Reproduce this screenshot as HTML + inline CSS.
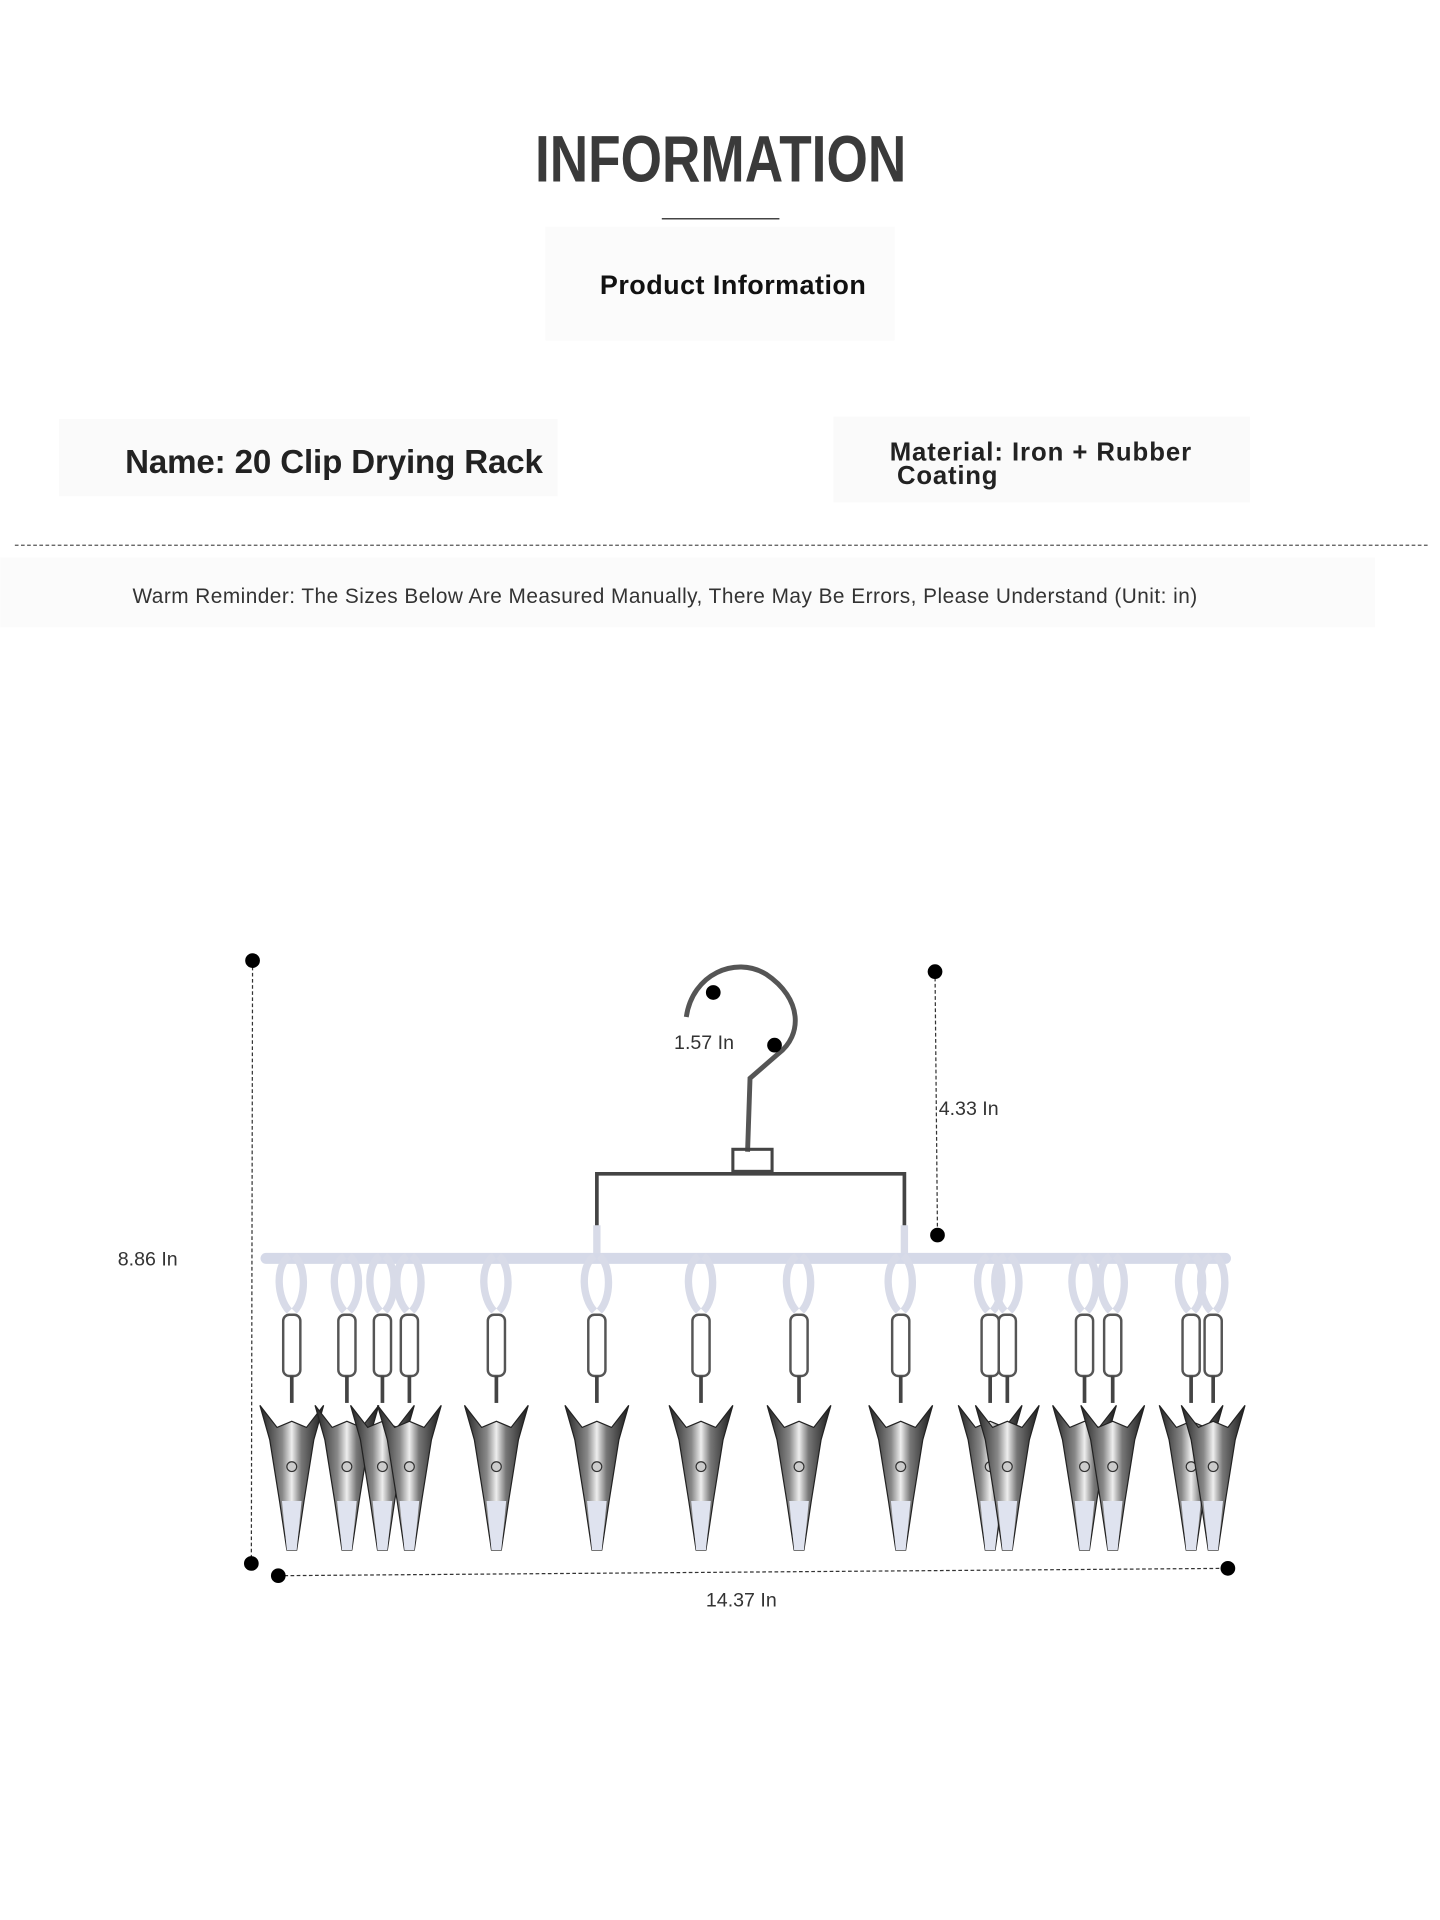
<!DOCTYPE html>
<html><head><meta charset="utf-8"><style>
html,body{margin:0;padding:0;background:#fff;}
svg{display:block;}
</style></head><body>
<svg width="1440" height="1920" viewBox="0 0 1175 1567" xmlns="http://www.w3.org/2000/svg">
<defs>
<linearGradient id="met" x1="0" x2="1" y1="0" y2="0">
<stop offset="0" stop-color="#222"/><stop offset="0.35" stop-color="#888"/><stop offset="0.5" stop-color="#eee"/><stop offset="0.65" stop-color="#777"/><stop offset="1" stop-color="#1a1a1a"/>
</linearGradient>
<g id="clip">
<path d="M-2,0 C-14,8 -12,35 -2,45 M2,0 C12,8 12,35 2,45" fill="none" stroke="#d8dbe8" stroke-width="6"/>
<rect x="-7" y="48" width="14" height="50" rx="5" fill="none" stroke="#555" stroke-width="2"/>
<line x1="0" y1="98" x2="0" y2="120" stroke="#444" stroke-width="3"/>
<path d="M-26,122 L-18,150 L-10,200 L-4,240 L4,240 L10,200 L18,150 L26,122 L12,140 L0,135 L-12,140 Z" fill="url(#met)" stroke="#222" stroke-width="1"/>
<circle cx="0" cy="172" r="4" fill="#ccc" stroke="#333"/>
<path d="M-8,200 L-4,240 L4,240 L8,200 Z" fill="#dfe3ef"/>
</g>
</defs>
<rect width="1175" height="1567" fill="#fff"/>
<text x="588" y="148" text-anchor="middle" font-family="Liberation Sans Narrow, Liberation Sans, sans-serif" font-weight="bold" font-size="54" fill="#3a3a3a" textLength="303" lengthAdjust="spacingAndGlyphs">INFORMATION</text>
<line x1="540" y1="178.5" x2="636" y2="178.5" stroke="#444" stroke-width="1.2"/>
<rect x="445" y="185" width="285" height="93" fill="#fbfbfb"/>
<text x="598" y="240" text-anchor="middle" font-family="Liberation Sans, sans-serif" font-weight="bold" font-size="22" fill="#111" textLength="217">Product Information</text>
<rect x="48" y="342" width="407" height="63" fill="#fafafa"/>
<text x="102" y="386" font-family="Liberation Sans, sans-serif" font-weight="bold" font-size="27" fill="#222" textLength="341">Name: 20 Clip Drying Rack</text>
<rect x="680" y="340" width="340" height="70" fill="#fafafa"/>
<text x="726" y="376" font-family="Liberation Sans, sans-serif" font-weight="bold" font-size="21" fill="#222" textLength="246">Material: Iron + Rubber</text>
<text x="732" y="395" font-family="Liberation Sans, sans-serif" font-weight="bold" font-size="21" fill="#222" textLength="82">Coating</text>
<line x1="12" y1="445" x2="1165" y2="445" stroke="#555" stroke-width="1" stroke-dasharray="3,2"/>
<rect x="0" y="455" width="1122" height="57" fill="#fbfbfb"/>
<text x="108" y="492" font-family="Liberation Sans, sans-serif" font-size="17" fill="#333" textLength="869">Warm Reminder: The Sizes Below Are Measured Manually, There May Be Errors, Please Understand (Unit: in)</text>

<!-- hanger -->
<path d="M560,830 C565,795 600,780 625,795 C655,815 655,845 635,860 L612,880 L610,940" fill="none" stroke="#555" stroke-width="4"/>
<rect x="598" y="938" width="32" height="18" fill="none" stroke="#444" stroke-width="2.5"/>
<path d="M487,1030 L487,958 L738,958 L738,1030" fill="none" stroke="#444" stroke-width="3"/>
<line x1="487" y1="1000" x2="487" y2="1030" stroke="#d8dbe8" stroke-width="6"/>
<line x1="738" y1="1000" x2="738" y2="1030" stroke="#d8dbe8" stroke-width="6"/>
<line x1="217" y1="1027" x2="1000" y2="1027" stroke="#d5d9e8" stroke-width="9" stroke-linecap="round"/>
<use href="#clip" x="238" y="1025"/>
<use href="#clip" x="283" y="1025"/>
<use href="#clip" x="312" y="1025"/>
<use href="#clip" x="334" y="1025"/>
<use href="#clip" x="405" y="1025"/>
<use href="#clip" x="487" y="1025"/>
<use href="#clip" x="572" y="1025"/>
<use href="#clip" x="652" y="1025"/>
<use href="#clip" x="735" y="1025"/>
<use href="#clip" x="808" y="1025"/>
<use href="#clip" x="822" y="1025"/>
<use href="#clip" x="885" y="1025"/>
<use href="#clip" x="908" y="1025"/>
<use href="#clip" x="972" y="1025"/>
<use href="#clip" x="990" y="1025"/>

<!-- dimensions -->
<g stroke="#333" stroke-width="1" stroke-dasharray="3,2" fill="none">
<line x1="206" y1="784" x2="205" y2="1276"/>
<line x1="763" y1="793" x2="765" y2="1008"/>
<line x1="227" y1="1286" x2="1002" y2="1280"/>
</g>
<g fill="#000">
<circle cx="206" cy="784" r="6"/><circle cx="205" cy="1276" r="6"/>
<circle cx="763" cy="793" r="6"/><circle cx="765" cy="1008" r="6"/>
<circle cx="227" cy="1286" r="6"/><circle cx="1002" cy="1280" r="6"/>
<circle cx="582" cy="810" r="6"/><circle cx="632" cy="853" r="6"/>
</g>
<g font-family="Liberation Sans, sans-serif" font-size="16" fill="#333">
<text x="550" y="856">1.57 In</text>
<text x="766" y="910">4.33 In</text>
<text x="96" y="1033">8.86 In</text>
<text x="576" y="1311">14.37 In</text>
</g>
</svg>
</body></html>
